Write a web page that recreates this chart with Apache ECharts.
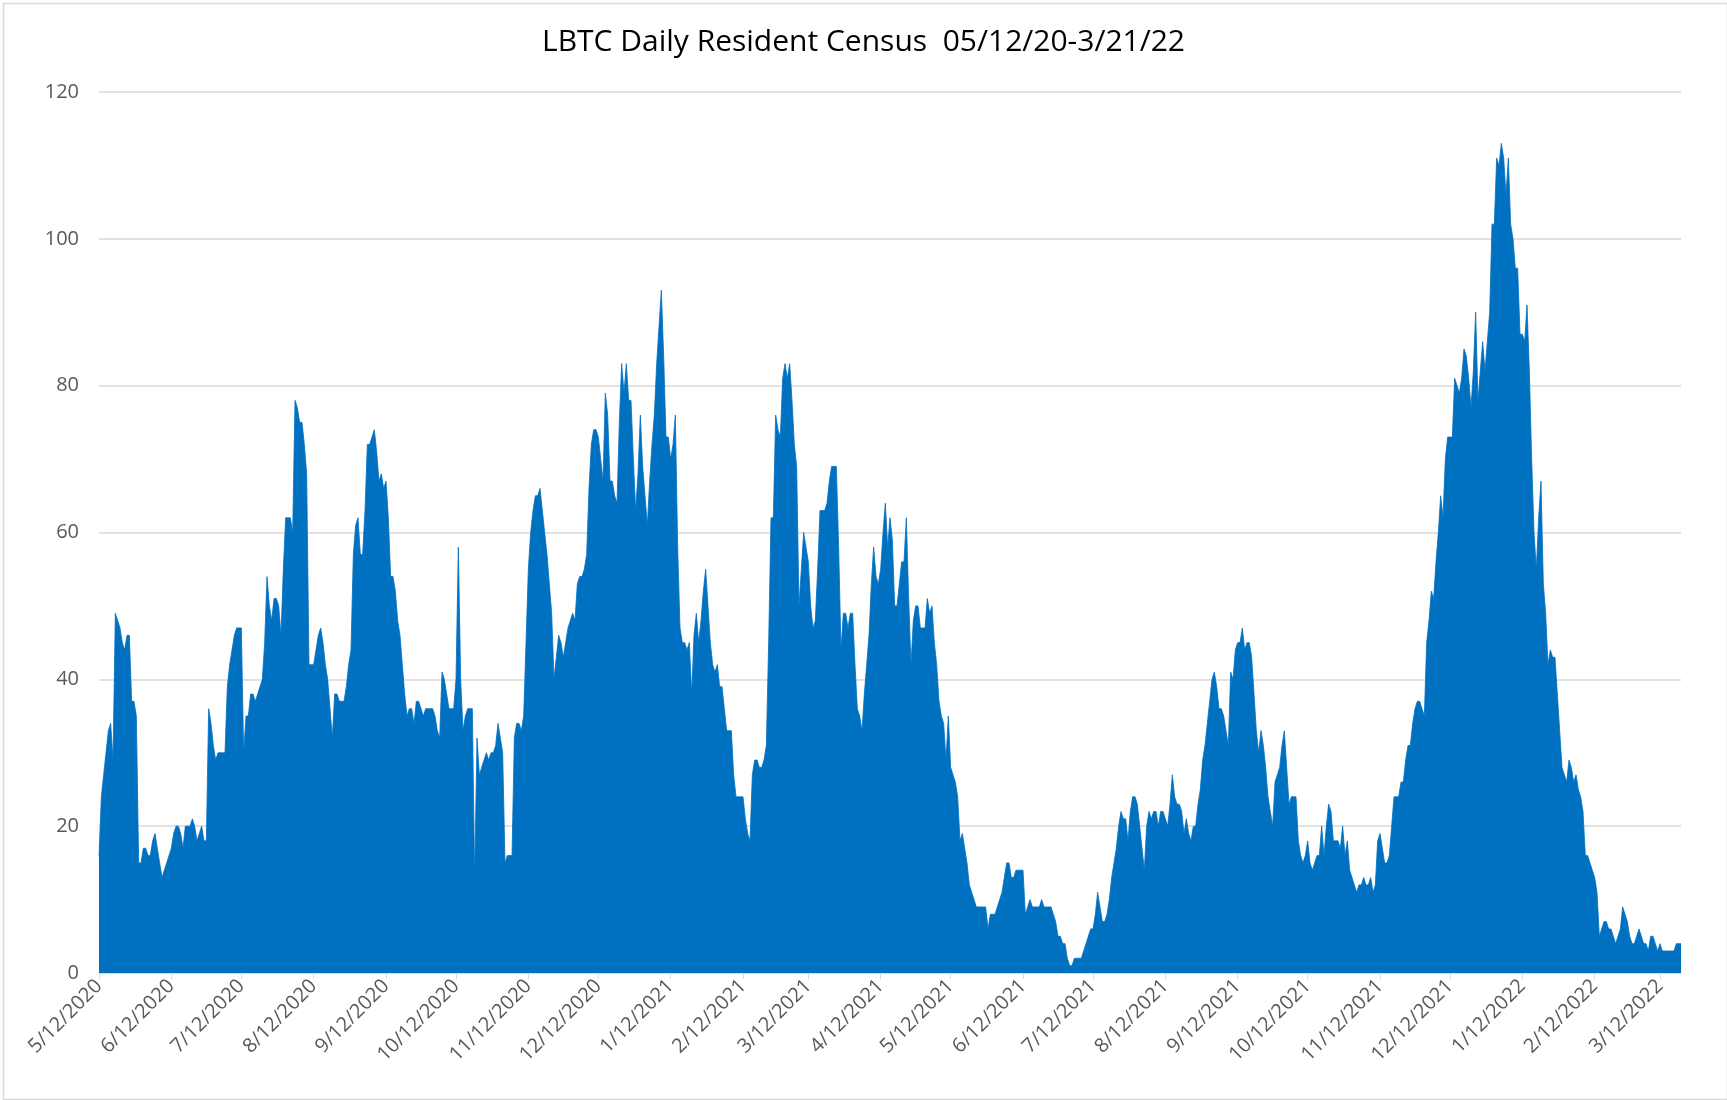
<!DOCTYPE html>
<html>
<head>
<meta charset="utf-8">
<script src="https://cdn.jsdelivr.net/npm/echarts@6/dist/echarts.min.js"></script>
<style>
html,body{margin:0;padding:0;background:#fff;}
#chart{width:1727px;height:1100px;}
</style>
</head>
<body>
<div id="chart"></div>
<script>
// Chart text
const titleText = 'LBTC Daily Resident Census  05/12/20-3/21/22';

// First day of the daily series (categories run one per day from here)
const startDate = [2020, 5, 12];

// Month tick labels shown on the x axis
const tickLabels = ['5/12/2020','6/12/2020','7/12/2020','8/12/2020','9/12/2020','10/12/2020',
  '11/12/2020','12/12/2020','1/12/2021','2/12/2021','3/12/2021','4/12/2021','5/12/2021',
  '6/12/2021','7/12/2021','8/12/2021','9/12/2021','10/12/2021','11/12/2021','12/12/2021',
  '1/12/2022','2/12/2022','3/12/2022'];

// Y axis ticks
const yTicks = [0, 20, 40, 60, 80, 100, 120];

// Daily resident census, 5/12/2020 .. 3/21/2022
const census = [
  16,24,27,30,33,34,29,49,48,47,
  45,44,46,46,37,37,35,15,15,17,
  17,16,16,18,19,17,15,13,14,15,
  16,17,19,20,20,19,17,20,20,20,
  21,20,18,19,20,18,18,36,34,31,
  29,30,30,30,30,39,42,44,46,47,
  47,47,30,35,35,38,38,37,38,39,
  40,45,54,50,48,51,51,50,46,55,
  62,62,62,60,78,77,75,75,72,68,
  42,42,42,44,46,47,45,42,40,36,
  32,38,38,37,37,37,39,42,44,57,
  61,62,57,57,63,72,72,73,74,71,
  67,68,66,67,62,54,54,52,48,46,
  42,38,35,36,36,34,37,37,36,35,
  36,36,36,36,35,33,32,41,40,38,
  36,36,36,40,58,40,33,35,36,36,
  36,13,32,27,28,29,30,29,30,30,
  31,34,32,30,15,16,16,16,32,34,
  34,33,35,45,55,60,63,65,65,66,
  63,60,57,53,49,40,43,46,45,43,
  45,47,48,49,48,53,54,54,55,57,
  66,72,74,74,73,70,67,79,76,67,
  67,65,64,75,83,79,83,78,78,70,
  63,68,76,69,65,61,67,72,76,83,
  88,93,84,73,73,70,72,76,58,47,
  45,45,44,45,38,46,49,45,48,52,
  55,50,45,42,41,42,39,39,36,33,
  33,33,27,24,24,24,24,21,19,18,
  27,29,29,28,28,29,31,45,62,62,
  76,74,73,81,83,81,83,78,72,69,
  50,55,60,58,56,50,47,48,55,63,
  63,63,64,67,69,69,69,58,44,49,
  49,47,49,49,42,36,35,33,38,42,
  46,53,58,54,53,55,60,64,58,62,
  59,50,50,53,56,56,62,51,42,48,
  50,50,47,47,47,51,49,50,45,42,
  37,35,34,29,35,28,27,26,24,18,
  19,17,15,12,11,10,9,9,9,9,
  9,6,8,8,8,9,10,11,13,15,
  15,13,13,14,14,14,14,8,9,10,
  9,9,9,9,10,9,9,9,9,8,
  7,5,5,4,4,2,1,1,2,2,
  2,2,3,4,5,6,6,8,11,9,
  7,7,8,10,13,15,17,20,22,21,
  21,18,22,24,24,23,20,17,14,20,
  22,21,22,22,20,22,22,21,20,23,
  27,24,23,23,22,19,21,19,18,20,
  20,23,25,29,31,34,37,40,41,39,
  36,36,35,33,31,41,40,44,45,45,
  47,44,45,45,43,38,33,30,33,31,
  28,24,22,20,26,27,28,31,33,28,
  23,24,24,24,18,16,15,16,18,15,
  14,15,16,16,20,16,20,23,22,18,
  18,18,17,20,16,18,14,13,12,11,
  12,12,13,12,12,13,11,12,18,19,
  17,15,15,16,20,24,24,24,26,26,
  29,31,31,34,36,37,37,36,35,45,
  48,52,51,56,60,65,62,70,73,73,
  73,81,80,79,81,85,84,81,77,82,
  90,78,82,86,82,86,90,102,102,111,
  110,113,111,106,111,102,100,96,96,87,
  87,86,91,82,70,60,55,62,67,53,
  49,42,44,43,43,38,33,28,27,26,
  29,28,26,27,25,24,22,16,16,15,
  14,13,11,5,6,7,7,6,6,5,
  4,5,6,9,8,7,5,4,4,5,
  6,5,4,4,3,5,5,4,3,4,
  3,3,3,3,3,3,4,4,4
];

// Build one date category per value
const dates = [];
{
  const d0 = new Date(Date.UTC(startDate[0], startDate[1] - 1, startDate[2]));
  for (let i = 0; i < census.length; i++) {
    const d = new Date(d0.getTime() + i * 86400000);
    dates.push((d.getUTCMonth() + 1) + '/' + d.getUTCDate() + '/' + d.getUTCFullYear());
  }
}
const tickSet = new Set(tickLabels);
const isTick = (idx, val) => tickSet.has(val);

const chart = echarts.init(document.getElementById('chart'), null, {renderer: 'canvas'});
chart.setOption({
  animation: false,
  backgroundColor: '#ffffff',
  title: {
    text: titleText,
    left: 'center',
    top: 22,
    textStyle: {fontFamily: 'Open Sans', fontSize: 30, fontWeight: 'normal', color: '#000000'}
  },
  graphic: [{
    type: 'rect', left: 1, top: 1, silent: true,
    shape: {width: 1724, height: 1096},
    style: {fill: 'none', stroke: '#d9d9d9', lineWidth: 1.5}
  }],
  grid: {left: 99, right: 46, top: 92, bottom: 127, containLabel: false},
  xAxis: {
    type: 'category',
    data: dates,
    boundaryGap: false,
    axisLine: {show: true, lineStyle: {color: '#d9d9d9', width: 1}},
    axisTick: {show: true, interval: isTick, length: 6, lineStyle: {color: '#d9d9d9'}},
    axisLabel: {
      interval: isTick,
      rotate: 45,
      margin: 10,
      color: '#595959',
      fontFamily: 'Open Sans',
      fontSize: 20
    },
    splitLine: {show: false}
  },
  yAxis: {
    type: 'value',
    min: yTicks[0],
    max: yTicks[yTicks.length - 1],
    interval: yTicks[1] - yTicks[0],
    axisLine: {show: false},
    axisTick: {show: false},
    axisLabel: {color: '#595959', fontFamily: 'Open Sans', fontSize: 20, margin: 20},
    splitLine: {show: true, lineStyle: {color: '#d9d9d9', width: 1.5}}
  },
  series: [{
    type: 'line',
    data: census,
    showSymbol: false,
    symbol: 'none',
    sampling: null,
    lineStyle: {color: '#0070C0', width: 0.8},
    areaStyle: {color: '#0070C0', opacity: 1},
    itemStyle: {color: '#0070C0'}
  }]
});
</script>
</body>
</html>
